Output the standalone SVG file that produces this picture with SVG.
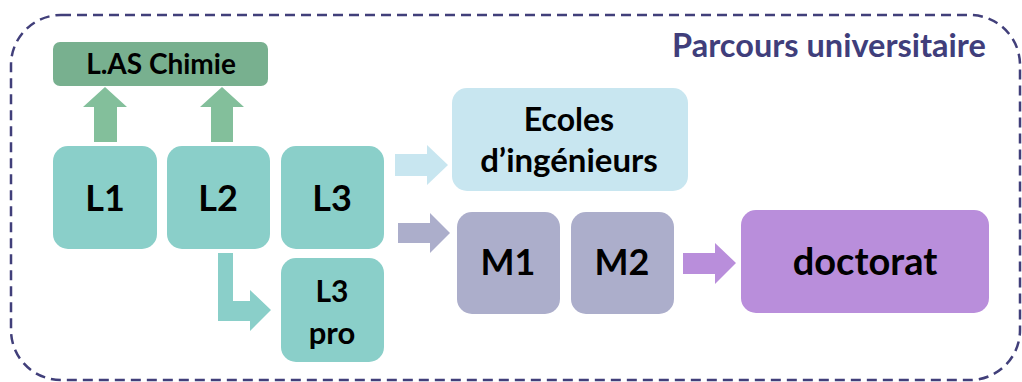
<svg xmlns="http://www.w3.org/2000/svg" width="1022" height="382" viewBox="0 0 1022 382">
<style>
text{font-family:Lato,"Open Sans",sans-serif;font-weight:bold;fill:#000;text-anchor:middle}
.teal{fill:#8acfc9}
.green{fill:#78b08f}
.garrow{fill:#83bf9b}
.blue{fill:#c8e6f0}
.grey{fill:#acaecb}
.purple{fill:#b98edb}
</style>
<rect x="11" y="15" width="1009" height="365" rx="50" fill="none" stroke="#413f7a" stroke-width="2.5" stroke-dasharray="10 6"/>
<text x="829" y="57" style="font-size:32.5px;fill:#403e7b">Parcours universitaire</text>
<g id="connectors">
<polygon class="garrow" points="94,142 94,107 83,107 105,87 127,107 117,107 117,142"/>
<polygon class="garrow" points="211,142 211,107 200,107 222,87 244,107 233,107 233,142"/>
<polygon class="teal" points="218,253 233,253 233,301 250,301 250,290 271,310 250,331 250,321 218,321"/>
<polygon class="blue" points="395,154 427,154 427,145 448,165 427,185 427,176 395,176"/>
<polygon class="grey" points="398,223 430,223 430,213 450,233 430,253 430,243 398,243"/>
<polygon class="purple" points="683,253 715,253 715,243 736,263 715,284 715,274 683,274"/>
</g>
<g id="las"><rect class="green" x="53" y="42" width="215" height="44" rx="7"/><text x="161" y="74" style="font-size:28px">L.AS Chimie</text></g>
<g id="l1"><rect class="teal" x="53" y="146" width="104" height="103" rx="15"/><text x="105" y="211" style="font-size:36px">L1</text></g>
<g id="l2"><rect class="teal" x="167" y="146" width="103" height="103" rx="15"/><text x="218" y="211" style="font-size:36px">L2</text></g>
<g id="l3"><rect class="teal" x="281" y="146" width="103" height="103" rx="15"/><text x="332" y="211" style="font-size:36px">L3</text></g>
<g id="l3pro"><rect class="teal" x="281" y="258" width="103" height="104" rx="15"/><text x="332" y="302" style="font-size:30px">L3</text><text x="332" y="344" style="font-size:31px">pro</text></g>
<g id="ecoles"><rect class="blue" x="452" y="88" width="236" height="103" rx="15"/><text x="569" y="131" style="font-size:32px">Ecoles</text><text x="569" y="172" style="font-size:33px">d’ingénieurs</text></g>
<g id="m1"><rect class="grey" x="457" y="212" width="103" height="102" rx="15"/><text x="508" y="275" style="font-size:36px">M1</text></g>
<g id="m2"><rect class="grey" x="571" y="212" width="103" height="102" rx="15"/><text x="622" y="275" style="font-size:36px">M2</text></g>
<g id="doctorat"><rect class="purple" x="741" y="210" width="248" height="103" rx="15"/><text x="865" y="275" style="font-size:38px">doctorat</text></g>
</svg>
